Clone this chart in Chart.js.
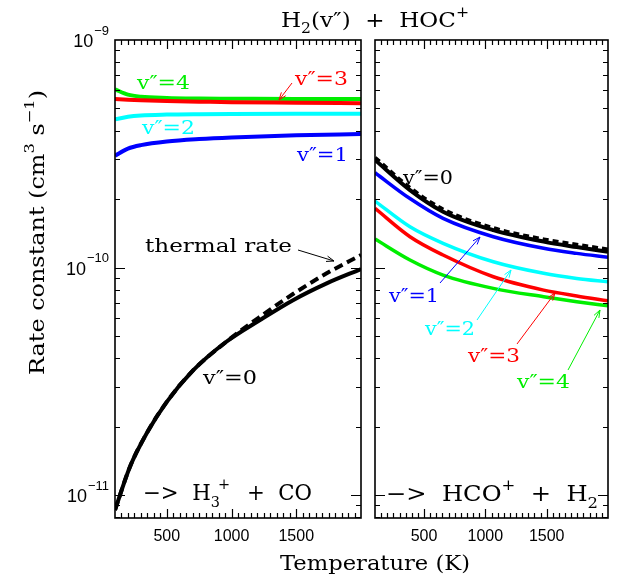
<!DOCTYPE html>
<html>
<head>
<meta charset="utf-8">
<script src="https://cdn.jsdelivr.net/npm/chart.js@4.4.1/dist/chart.umd.min.js"></script>
<style>
  html, body { margin: 0; padding: 0; background: #fff; }
  #wrap { position: relative; width: 625px; height: 581px; }
  canvas { position: absolute; left: 0; top: 0; }
</style>
</head>
<body>
<div id="wrap">
  <canvas id="left" width="625" height="581"></canvas>
  <canvas id="right" width="625" height="581"></canvas>
</div>
<script>
// ---- data (rate constants in cm^3 s^-1) ----
// left panel: H2(v'') + HOC+ -> H3+ + CO
const tempLeft = [100, 200, 300, 500, 750, 1000, 1500, 2000];
const leftV4 = [6.07e-10, 5.75e-10, 5.63e-10, 5.56e-10, 5.53e-10, 5.52e-10, 5.5e-10, 5.5e-10];
const leftV3 = [5.5e-10, 5.46e-10, 5.43e-10, 5.39e-10, 5.36e-10, 5.33e-10, 5.3e-10, 5.27e-10];
const leftV2 = [4.48e-10, 4.6e-10, 4.66e-10, 4.7e-10, 4.72e-10, 4.73e-10, 4.74e-10, 4.74e-10];
const leftV1 = [3.10e-10, 3.33e-10, 3.45e-10, 3.58e-10, 3.67e-10, 3.73e-10, 3.81e-10, 3.86e-10];

const tempLeftV0 = [100, 215, 345, 500, 705, 960, 1220, 1475, 1735, 2000];
const leftV0 = [8.6e-12, 1.33e-11, 1.87e-11, 2.57e-11, 3.54e-11, 4.72e-11, 5.88e-11, 7.19e-11, 8.52e-11, 9.85e-11];
const leftThermal = [8.6e-12, 1.33e-11, 1.87e-11, 2.57e-11, 3.54e-11, 4.72e-11, 6.08e-11, 7.65e-11, 9.43e-11, 1.135e-10];

// right panel: H2(v'') + HOC+ -> HCO+ + H2
const tempRight = [100, 385, 655, 1065, 1475, 1745, 2000];
const rightV0 = [2.97e-10, 2.19e-10, 1.76e-10, 1.46e-10, 1.30e-10, 1.23e-10, 1.173e-10];
const rightThermal = [3.04e-10, 2.24e-10, 1.80e-10, 1.49e-10, 1.33e-10, 1.26e-10, 1.2e-10];
const rightV1 = [2.61e-10, 2.01e-10, 1.645e-10, 1.366e-10, 1.215e-10, 1.154e-10, 1.109e-10];
const rightV2 = [1.96e-10, 1.51e-10, 1.278e-10, 1.06e-10, 9.43e-11, 8.96e-11, 8.66e-11];
const rightV3 = [1.82e-10, 1.366e-10, 1.135e-10, 9.11e-11, 7.96e-11, 7.5e-11, 7.14e-11];
const rightV4 = [1.334e-10, 1.079e-10, 9.27e-11, 8.1e-11, 7.44e-11, 7.08e-11, 6.79e-11];

const xTickLabels = [500, 1000, 1500];
const yDecades = [-11, -10, -9];

const SERIF = '"DejaVu Serif", serif';
const SANS = '"Liberation Sans", "DejaVu Sans", sans-serif';
const GREEN = '#00ee00', RED = '#ff0000', CYAN = '#00ffff', BLUE = '#0000ff';

function pts(xs, ys) {
  return xs.map((x, i) => ({ x: x, y: ys[i] }));
}

function line(data, color, width, dash) {
  return {
    data: data,
    borderColor: color,
    borderWidth: width,
    borderDash: dash || [],
    pointRadius: 0,
    cubicInterpolationMode: 'monotone',
    fill: false,
  };
}

// text with sub/superscripts, drawn so it fills the given width
function richText(ctx, segs, x, y, size, width, color) {
  const small = size * 0.68;
  let w = 0;
  segs.forEach(s => {
    ctx.font = (s.m ? small : size) + 'px ' + SERIF;
    s.w = ctx.measureText(s.t).width;
    if (!s.back) w += s.w;
  });
  ctx.save();
  ctx.translate(x, y);
  if (width) ctx.scale(width / w, 1);
  ctx.fillStyle = color || '#000';
  ctx.textBaseline = 'alphabetic';
  ctx.textAlign = 'left';
  let cx = 0, prev = 0;
  segs.forEach(s => {
    ctx.font = (s.m ? small : size) + 'px ' + SERIF;
    const dy = s.m === 'sub' ? size * 0.3 : s.m === 'sup' ? -size * 0.48 : 0;
    const px = s.back ? prev + s.w * 0.6 : cx;
    ctx.fillText(s.t, px, dy);
    if (!s.back) { prev = cx; cx += s.w; }
  });
  ctx.restore();
  return w;
}

function arrow(ctx, x0, y0, x1, y1, color) {
  const ang = Math.atan2(y1 - y0, x1 - x0), h = 8;
  ctx.save();
  ctx.strokeStyle = color;
  ctx.lineWidth = 1;
  ctx.beginPath();
  ctx.moveTo(x0, y0); ctx.lineTo(x1, y1);
  ctx.moveTo(x1 - h * Math.cos(ang - 0.35), y1 - h * Math.sin(ang - 0.35));
  ctx.lineTo(x1, y1);
  ctx.lineTo(x1 - h * Math.cos(ang + 0.35), y1 - h * Math.sin(ang + 0.35));
  ctx.stroke();
  ctx.restore();
}

function vlabel(n) {
  return [{ t: 'v\u2033=' + n }];
}

function makeFrame(cfg) {
  return {
    id: 'frame',
    afterDraw(chart) {
      const ctx = chart.ctx, a = chart.chartArea;
      const xs = chart.scales.x, ys = chart.scales.y;
      ctx.save();
      ctx.strokeStyle = '#000';
      ctx.lineWidth = 1.6;
      ctx.strokeRect(a.left, a.top, a.right - a.left, a.bottom - a.top);

      ctx.lineWidth = 1.2;
      ctx.beginPath();
      for (let t = 150; t < 2000; t += 50) {
        const px = Math.round(xs.getPixelForValue(t)) + 0.5;
        const len = t % 500 === 0 ? 9 : 5;
        ctx.moveTo(px, a.bottom); ctx.lineTo(px, a.bottom - len);
        ctx.moveTo(px, a.top); ctx.lineTo(px, a.top + len);
      }
      for (let d = -12; d <= -9; d++) {
        for (let m = 1; m <= 9; m++) {
          const v = m * Math.pow(10, d);
          if (v < ys.min || v >= ys.max) continue;
          const py = Math.round(ys.getPixelForValue(v)) + 0.5;
          const len = m === 1 ? 10 : 5;
          ctx.moveTo(a.left, py); ctx.lineTo(a.left + len, py);
          ctx.moveTo(a.right, py); ctx.lineTo(a.right - len, py);
        }
      }
      ctx.stroke();

      ctx.fillStyle = '#000';
      ctx.font = '16px ' + SANS;
      ctx.textAlign = 'center';
      ctx.textBaseline = 'middle';
      xTickLabels.forEach(t => ctx.fillText(String(t), xs.getPixelForValue(t), 537));

      if (cfg.yLabels) {
        yDecades.forEach(d => {
          const py = ys.getPixelForValue(Math.pow(10, d));
          ctx.textAlign = 'right';
          ctx.font = '13px ' + SANS;
          const e = '\u2212' + Math.abs(d);
          const ew = ctx.measureText(e).width;
          ctx.fillText(e, 109, py - 9);
          ctx.font = '18px ' + SANS;
          ctx.fillText('10', 109 - ew - 1, py + 2);
        });
      }

      cfg.texts.forEach(tx => {
        richText(ctx, tx.segs, tx.x, tx.y + tx.size * 0.36, tx.size, tx.w, tx.color);
      });
      cfg.arrows.forEach(ar => arrow(ctx, ar[0], ar[1], ar[2], ar[3], ar[4]));
      if (cfg.extra) cfg.extra(ctx);
      ctx.restore();
    }
  };
}

function options(padLeft, padRight) {
  return {
    responsive: false,
    animation: false,
    devicePixelRatio: 1,
    layout: { padding: { left: padLeft, right: padRight, top: 40, bottom: 63 } },
    plugins: { legend: { display: false }, tooltip: { enabled: false } },
    scales: {
      x: { type: 'linear', min: 100, max: 2000, display: false },
      y: { type: 'logarithmic', min: 7.93e-12, max: 1e-9, display: false }
    }
  };
}

new Chart(document.getElementById('left'), {
  type: 'line',
  data: {
    datasets: [
      line(pts(tempLeft, leftV1), BLUE, 4),
      line(pts(tempLeft, leftV2), CYAN, 4),
      line(pts(tempLeft, leftV3), RED, 4),
      line(pts(tempLeft, leftV4), GREEN, 4),
      line(pts(tempLeftV0, leftV0), '#000', 4),
      line(pts(tempLeftV0, leftThermal), '#000', 4, [9, 5]),
    ]
  },
  options: options(115, 264),
  plugins: [makeFrame({
    yLabels: true,
    texts: [
      { segs: vlabel(4), x: 137, y: 82, size: 19, w: 53, color: GREEN },
      { segs: vlabel(3), x: 295, y: 78, size: 19, w: 53, color: RED },
      { segs: vlabel(2), x: 142, y: 127, size: 19, w: 53, color: CYAN },
      { segs: vlabel(1), x: 297, y: 154, size: 19, w: 51, color: BLUE },
      { segs: [{ t: 'thermal rate' }], x: 145, y: 245, size: 19, w: 147 },
      { segs: vlabel(0), x: 203, y: 377, size: 19, w: 54 },
      { segs: [{ t: '\u2212>  H' }, { t: '3', m: 'sub' }, { t: '+', m: 'sup', back: true }, { t: '    +  CO' }],
        x: 143, y: 492, size: 22, w: 169 },
    ],
    arrows: [
      [292, 83, 279, 100, RED],
      [298, 250, 334, 261, '#000'],
    ],
    extra(ctx) {
      // figure title and axis titles
      richText(ctx, [{ t: 'H' }, { t: '2', m: 'sub' }, { t: '(v\u2033)  +  HOC' }, { t: '+', m: 'sup' }],
        281, 27, 21, 188);
      richText(ctx, [{ t: 'Temperature (K)' }], 280, 570, 20, 190);
      ctx.save();
      ctx.translate(44, 375);
      ctx.rotate(-Math.PI / 2);
      richText(ctx, [{ t: 'Rate constant (cm' }, { t: '3', m: 'sup' }, { t: ' s' }, { t: '\u22121', m: 'sup' }, { t: ')' }],
        0, 0, 20, 285);
      ctx.restore();
    }
  })]
});

new Chart(document.getElementById('right'), {
  type: 'line',
  data: {
    datasets: [
      line(pts(tempRight, rightV4), GREEN, 3.5),
      line(pts(tempRight, rightV3), RED, 3.5),
      line(pts(tempRight, rightV2), CYAN, 3.5),
      line(pts(tempRight, rightV1), BLUE, 3.5),
      line(pts(tempRight, rightV0), '#000', 4),
      line(pts(tempRight, rightThermal), '#000', 4, [6, 4]),
    ]
  },
  options: options(375, 17),
  plugins: [makeFrame({
    yLabels: false,
    texts: [
      { segs: vlabel(0), x: 403, y: 177, size: 19, w: 50 },
      { segs: vlabel(1), x: 389, y: 295, size: 19, w: 50, color: BLUE },
      { segs: vlabel(2), x: 425, y: 328, size: 19, w: 50, color: CYAN },
      { segs: vlabel(3), x: 468, y: 355, size: 19, w: 52, color: RED },
      { segs: vlabel(4), x: 517, y: 381, size: 19, w: 53, color: GREEN },
      { segs: [{ t: '\u2212>  HCO' }, { t: '+', m: 'sup' }, { t: '  +  H' }, { t: '2', m: 'sub' }],
        x: 386, y: 493, size: 22, w: 212 },
    ],
    arrows: [
      [440, 283, 480, 237, BLUE],
      [477, 320, 511, 270, CYAN],
      [517, 344, 555, 293, RED],
      [568, 370, 600, 310, GREEN],
    ]
  })]
});
</script>
</body>
</html>
